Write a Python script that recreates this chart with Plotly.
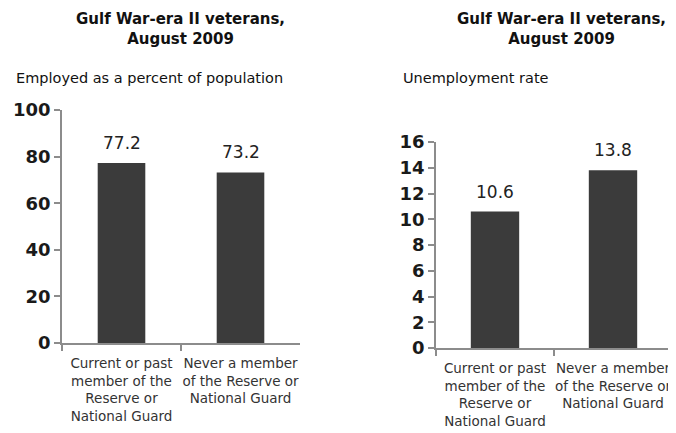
import plotly.graph_objects as go

categories = [
    "Current or past<br>member of the<br>Reserve or<br>National Guard",
    "Never a member<br>of the Reserve or<br>National Guard",
]
employed_pct = [77.2, 73.2]
unemployment_rate = [10.6, 13.8]
emp_ticks = [0, 20, 40, 60, 80, 100]
unemp_ticks = [0, 2, 4, 6, 8, 10, 12, 14, 16]

W, H = 676, 433
OFF = 8  # browser default body margin
BAR = "#3b3b3b"
AX = "#8c8c8c"
FONT = "DejaVu Sans"

fig = go.Figure()
fig.add_trace(go.Bar(
    x=categories, y=employed_pct, xaxis="x", yaxis="y",
    marker=dict(color=BAR, line=dict(width=0)), width=0.4,
))
fig.add_trace(go.Bar(
    x=categories, y=unemployment_rate, xaxis="x2", yaxis="y2",
    marker=dict(color=BAR, line=dict(width=0)), width=0.41,
))

def px_x(a, b):
    return [(a - OFF) / W, (b - OFF) / W]

def px_y(top, bottom):
    return [(H - (bottom - OFF)) / H, (H - (top - OFF)) / H]

def px_px(x):
    return (x - OFF) / W

def px_py(y):
    return 1 - (y - OFF) / H

xcommon = dict(
    type="category", showline=True, linecolor=AX, linewidth=1.5,
    ticks="outside", tickson="boundaries", ticklen=6, tickcolor=AX, tickwidth=1.5,
    tickangle=0, automargin=False, ticklabelstandoff=7,
    tickfont=dict(family=FONT, size=13.5, color="#333"), showgrid=False,
    zeroline=False, fixedrange=True,
)
ycommon = dict(
    showline=True, linecolor=AX, linewidth=1.5, ticks="outside", ticklen=6,
    tickcolor=AX, tickwidth=1.5, showgrid=False, zeroline=False, automargin=False,
    tickfont=dict(family=FONT, size=18, color="#1a1a1a", weight="bold"),
    fixedrange=True,
)

annotations = [
    dict(text="<b>Gulf War-era II veterans,<br>August 2009</b>", x=px_px(180), y=px_py(8),
         xref="paper", yref="paper", xanchor="center", yanchor="top", showarrow=False,
         font=dict(family=FONT, size=15, color="#111"), align="center"),
    dict(text="<b>Gulf War-era II veterans,<br>August 2009</b>", x=px_px(561), y=px_py(8),
         xref="paper", yref="paper", xanchor="center", yanchor="top", showarrow=False,
         font=dict(family=FONT, size=15, color="#111"), align="center"),
    dict(text="Employed as a percent of population", x=px_px(14), y=px_py(78),
         xref="paper", yref="paper", xanchor="left", yanchor="middle", showarrow=False,
         font=dict(family=FONT, size=14.5, color="#111")),
    dict(text="Unemployment rate", x=px_px(401), y=px_py(78),
         xref="paper", yref="paper", xanchor="left", yanchor="middle", showarrow=False,
         font=dict(family=FONT, size=14.5, color="#111")),
]
for cat, v in zip(categories, employed_pct):
    annotations.append(dict(text=f"{v:.1f}", x=cat, y=v, xref="x", yref="y",
                            xanchor="center", yanchor="bottom", yshift=8, showarrow=False,
                            font=dict(family=FONT, size=17, color="#222")))
for cat, v in zip(categories, unemployment_rate):
    annotations.append(dict(text=f"{v:.1f}", x=cat, y=v, xref="x2", yref="y2",
                            xanchor="center", yanchor="bottom", yshift=8, showarrow=False,
                            font=dict(family=FONT, size=17, color="#222")))

fig.update_layout(
    width=W, height=H, margin=dict(l=0, r=0, t=0, b=0),
    paper_bgcolor="white", plot_bgcolor="white", showlegend=False,
    bargap=0.6,
    xaxis=dict(domain=px_x(62, 300), anchor="y", **xcommon),
    yaxis=dict(domain=px_y(110, 343), anchor="x", range=[0, 100],
               tickvals=emp_ticks, **ycommon),
    xaxis2=dict(domain=px_x(436, 672), anchor="y2", **xcommon),
    yaxis2=dict(domain=px_y(142, 348), anchor="x2", range=[0, 16],
                tickvals=unemp_ticks, **ycommon),
    annotations=annotations,
)

fig.write_html("out.html")
